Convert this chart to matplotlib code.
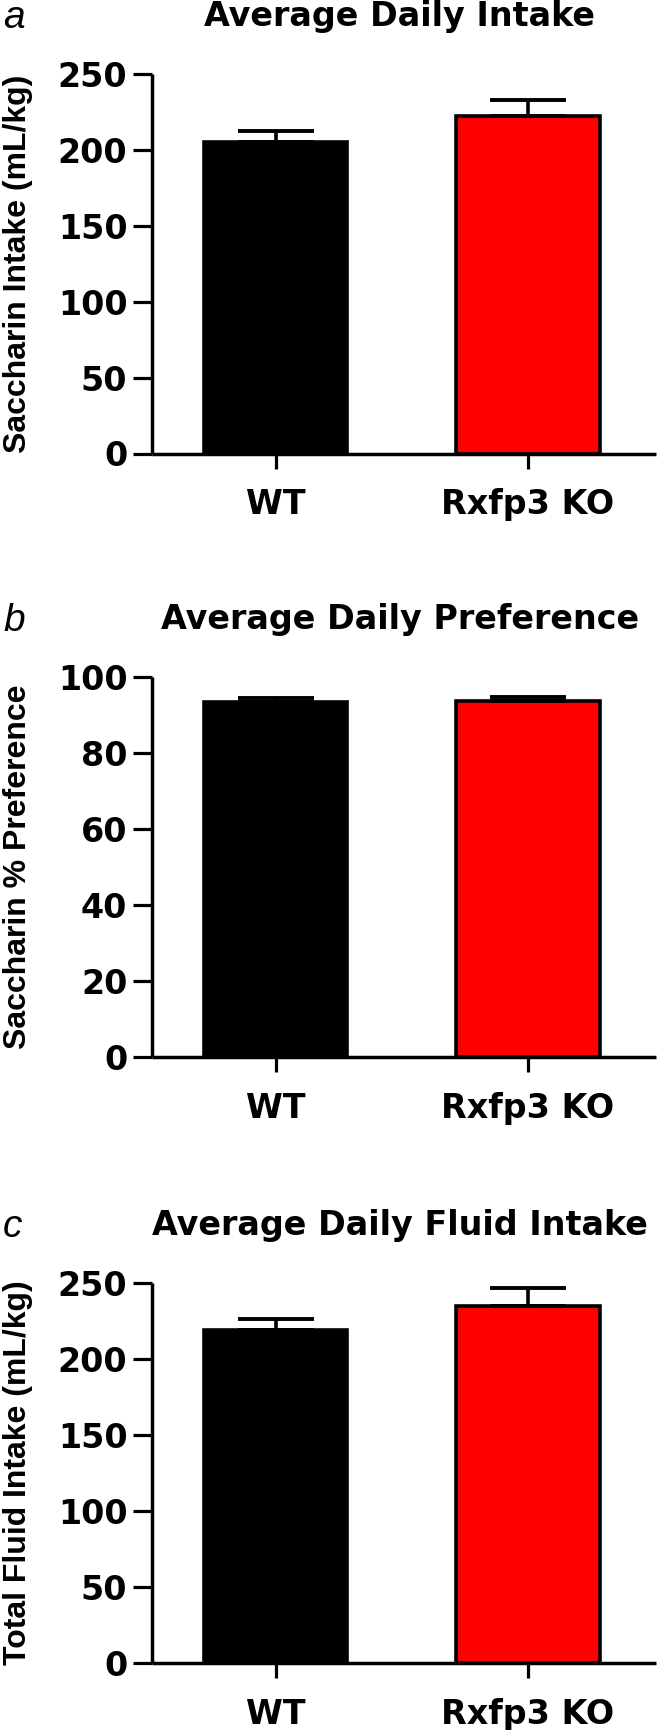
import matplotlib
matplotlib.use('Agg')
import matplotlib.pyplot as plt

# values (mean, SEM)
groups = ['WT', 'Rxfp3 KO']
colors = ['#000000', '#ff0000']

intake_mean = [205.3, 222.3]
intake_sem = [7.3, 10.6]

pref_mean = [93.4, 93.8]
pref_sem = [1.1, 1.1]

fluid_mean = [219.2, 234.9]
fluid_sem = [7.1, 12.1]

titles = ['Average Daily Intake', 'Average Daily Preference', 'Average Daily Fluid Intake']
ylabels = ['Saccharin Intake (mL/kg)', 'Saccharin % Preference', 'Total Fluid Intake (mL/kg)']
letters = ['a', 'b', 'c']
yticks = [[0, 50, 100, 150, 200, 250], [0, 20, 40, 60, 80, 100], [0, 50, 100, 150, 200, 250]]

W, H = 659, 1730
fig = plt.figure(figsize=(W / 100, H / 100), dpi=100)

# panel layout in pixels
left_px, right_px = 151.7, 656
tops_px = [74, 677.3, 1283.3]
height_px = 379.5

tick_font = dict(family='DejaVu Sans', weight='bold', size=24)
lw = 2.5

means = [intake_mean, pref_mean, fluid_mean]
sems = [intake_sem, pref_sem, fluid_sem]

for i in range(3):
    top = tops_px[i]
    ax = fig.add_axes([left_px / W, 1 - (top + height_px) / H,
                       (right_px - left_px) / W, height_px / H])
    x = [0, 1]
    ax.bar(x, means[i], width=0.567, color=colors, edgecolor='black',
           linewidth=2.6, zorder=2)
    ax.errorbar(x, means[i], yerr=[[0, 0], sems[i]], fmt='none', ecolor='black',
                elinewidth=2.6, capsize=27.5, capthick=2.8, zorder=3)
    ax.set_xlim(-0.491, 1.507)
    ax.set_ylim(0, yticks[i][-1])
    ax.set_yticks(yticks[i])
    ax.set_yticklabels([str(t) for t in yticks[i]], fontdict=tick_font)
    ax.set_xticks(x)
    ax.set_xticklabels(groups, fontdict=tick_font)
    ax.tick_params(axis='y', direction='out', length=14, width=2.3, pad=3.5)
    ax.tick_params(axis='x', direction='out', length=11, width=2.3, pad=14)
    for s in ['top', 'right']:
        ax.spines[s].set_visible(False)
    for s in ['left', 'bottom']:
        ax.spines[s].set_linewidth(lw)
        ax.spines[s].set_capstyle('butt')
    for t in ax.get_xticklines() + ax.get_yticklines():
        t.set_solid_capstyle('round')

    # y label
    ax.text(18 / W, 1 - (top + height_px / 2) / H, ylabels[i], transform=fig.transFigure,
            rotation=90, ha='center', va='center', family='Liberation Sans',
            weight='bold', size=23)
    # title and panel letter
    base = 1 - (top - 48) / H
    fig.text(400 / W, base, titles[i], ha='center', va='baseline',
             family='DejaVu Sans', weight='bold', size=24)
    fig.text(3 / W, 1 - (top - 46) / H, letters[i], ha='left', va='baseline',
             family='Liberation Sans', style='italic', size=28)

fig.savefig('out.png', dpi=100)
